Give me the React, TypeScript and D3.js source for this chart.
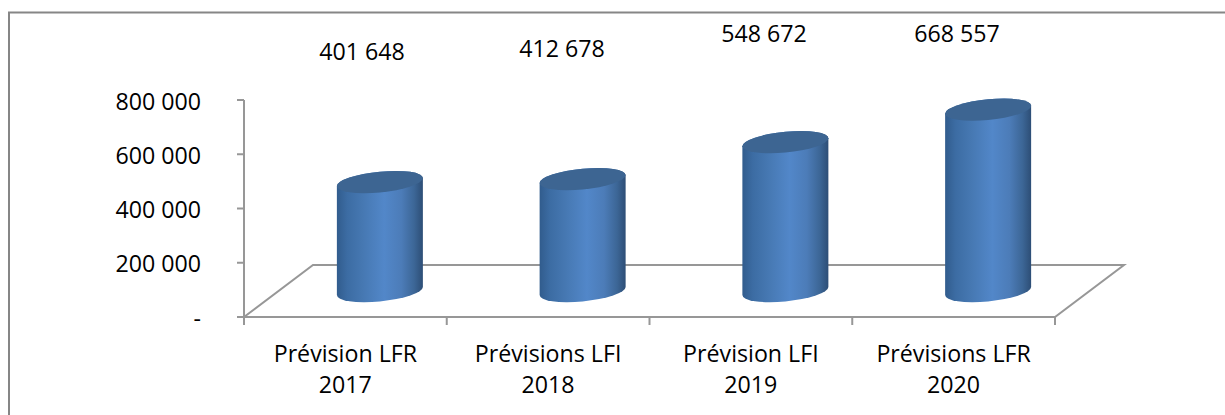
import React, { useEffect, useRef } from 'react';
import * as d3 from 'd3';

const categories = ['Prévision LFR 2017', 'Prévisions LFI 2018', 'Prévision LFI 2019', 'Prévisions LFR 2020'];
const categoryLines = [
  ['Prévision LFR', '2017'],
  ['Prévisions LFI', '2018'],
  ['Prévision LFI', '2019'],
  ['Prévisions LFR', '2020'],
];
const values = [401648, 412678, 548672, 668557];
const yTicks = [0, 200000, 400000, 600000, 800000];

// the data labels were moved by hand in the original, so they don't sit on the bars
const labelX = [362, 562, 764, 957];
const labelY = [52, 49, 34, 34];

const width = 1225;
const height = 415;
const font = '"Open Sans", sans-serif';
const fontSize = 23.2;
const axisColor = '#979797';

// 3d floor
const plot = { left: 244, right: 1055, top: 100, bottom: 317 };
const depth = { x: 69, y: 52 };

// cylinder shape
const radius = 43;
const capRy = 10.4;
const tilt = 4 / 43;

const fmt = (v: number) => (v === 0 ? '-' : d3.format(',')(v).replace(/,/g, ' '));

const App = () => {
  const ref = useRef<SVGSVGElement>(null);

  useEffect(() => {
    const svg = d3.select(ref.current);
    svg.selectAll('*').remove();

    const x = d3.scaleBand().domain(categories).range([plot.left, plot.right]);
    const y = d3.scaleLinear().domain([0, 800000]).range([plot.bottom, plot.top]);

    const defs = svg.append('defs');
    const grad = defs.append('linearGradient').attr('id', 'cyl').attr('x1', 0).attr('x2', 1).attr('y1', 0).attr('y2', 0);
    [
      [0, '#315c8d'],
      [0.12, '#3c6ca3'],
      [0.3, '#4678b2'],
      [0.55, '#5287c9'],
      [0.75, '#4c7cb8'],
      [0.9, '#3c6696'],
      [1, '#2d4e76'],
    ].forEach(([o, c]) => grad.append('stop').attr('offset', o as number).attr('stop-color', c as string));

    // outer frame (left and top only are visible)
    svg.append('path')
      .attr('d', `M9,${height}V12.5H${width}`)
      .attr('fill', 'none')
      .attr('stroke', '#868686')
      .attr('stroke-width', 2);

    // floor
    const axis = svg.append('g').attr('fill', 'none').attr('stroke', axisColor).attr('stroke-width', 2);
    const b = plot.bottom;
    axis.append('path').attr('d',
      `M${plot.left},${b}L${plot.left + depth.x},${b - depth.y}H${plot.right + depth.x}L${plot.right},${b}H${plot.left}`);

    // y axis
    axis.append('path').attr('d', `M${plot.left},${plot.top}V${b + 8}`);
    yTicks.forEach(t => {
      axis.append('path').attr('d', `M${plot.left - 7},${y(t)}H${plot.left}`);
    });
    svg.append('g')
      .selectAll('text')
      .data(yTicks)
      .join('text')
      .attr('x', 201)
      .attr('y', d => y(d) + 1.5)
      .attr('dy', '0.35em')
      .attr('text-anchor', 'end')
      .text(fmt);

    // x axis ticks
    const edges = [...categories.map(c => x(c) as number), plot.right];
    edges.forEach(e => {
      axis.append('path').attr('d', `M${e},${b}V${b + 8}`);
    });

    // cylinders
    const base = b - depth.y / 2;
    const offset = depth.x / 2;
    categories.forEach((c, i) => {
      const cx = (x(c) as number) + x.bandwidth() / 2 + offset;
      const top = y(values[i]) - depth.y / 2;
      const g = svg.append('g').attr('transform', `translate(${cx},0) matrix(1,${-tilt},0,1,0,0)`);
      g.append('path')
        .attr('d', `M${-radius},${top}V${base}A${radius},${capRy} 0 0 0 ${radius},${base}V${top}A${radius},${capRy} 0 0 0 ${-radius},${top}Z`)
        .attr('fill', 'url(#cyl)');
      g.append('ellipse')
        .attr('cx', 0)
        .attr('cy', top)
        .attr('rx', radius)
        .attr('ry', capRy)
        .attr('fill', '#3d6592');
    });

    // data labels
    svg.append('g')
      .selectAll('text')
      .data(values)
      .join('text')
      .attr('x', (_, i) => labelX[i])
      .attr('y', (_, i) => labelY[i])
      .attr('dy', '0.35em')
      .attr('text-anchor', 'middle')
      .text(fmt);

    // category labels
    const catG = svg.append('g')
      .selectAll('text')
      .data(categories)
      .join('text')
      .attr('text-anchor', 'middle');
    catG.selectAll('tspan')
      .data((_, i) => categoryLines[i])
      .join('tspan')
      .attr('x', function () {
        const c = d3.select((this as SVGElement).parentNode as SVGTextElement).datum() as string;
        return (x(c) as number) + x.bandwidth() / 2;
      })
      .attr('y', (_, j) => 354 + j * 31)
      .attr('dy', '0.35em')
      .text(d => d);

    svg.selectAll('text')
      .attr('font-family', font)
      .attr('font-size', fontSize)
      .attr('fill', '#000');
  }, []);

  return (
    <svg
      ref={ref}
      width={width}
      height={height}
      style={{ position: 'absolute', left: 0, top: 0, background: '#fff' }}
    />
  );
};

export default App;
